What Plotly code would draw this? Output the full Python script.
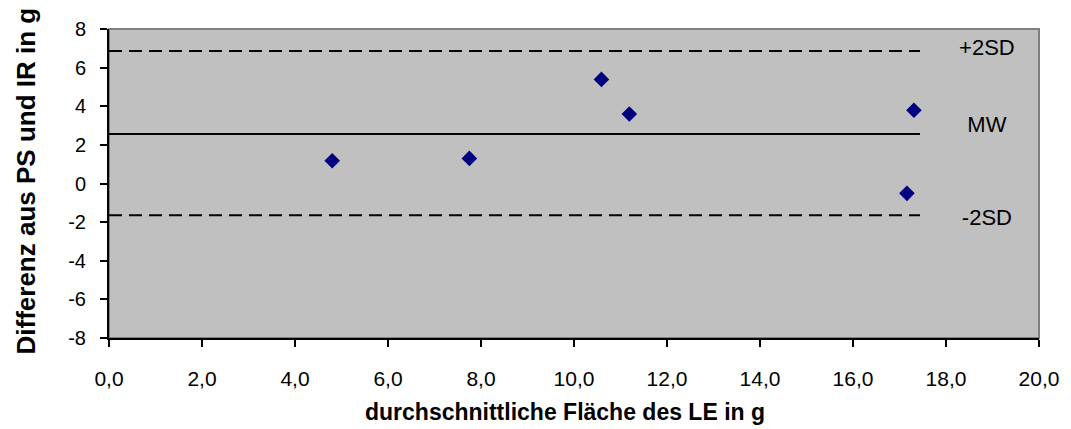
import plotly.graph_objects as go

# Data
mean_area = [4.80, 7.75, 10.59, 11.19, 17.31, 17.16]
diff_ps_ir = [1.18, 1.30, 5.39, 3.60, 3.79, -0.51]

line_x = [0.0, 17.44]
upper_sd = 6.86
mean_diff = 2.56
lower_sd = -1.65

line_labels = ["+2SD", "MW", "-2SD"]
label_x = 18.88
label_y = [6.96, 2.93, -1.84]

x_ticks = [0, 2, 4, 6, 8, 10, 12, 14, 16, 18, 20]
x_tick_text = ["0,0", "2,0", "4,0", "6,0", "8,0", "10,0", "12,0", "14,0", "16,0", "18,0", "20,0"]
y_ticks = [-8, -6, -4, -2, 0, 2, 4, 6, 8]
y_tick_text = ["-8", "-6", "-4", "-2", "0", "2", "4", "6", "8"]

FONT = "Liberation Sans, Arial, sans-serif"

fig = go.Figure()

fig.add_trace(go.Scatter(x=line_x, y=[upper_sd, upper_sd], mode="lines",
                         line=dict(color="black", width=2, dash="13px,7px"),
                         hoverinfo="skip", showlegend=False))
fig.add_trace(go.Scatter(x=line_x, y=[mean_diff, mean_diff], mode="lines",
                         line=dict(color="black", width=2),
                         hoverinfo="skip", showlegend=False))
fig.add_trace(go.Scatter(x=line_x, y=[lower_sd, lower_sd], mode="lines",
                         line=dict(color="black", width=2, dash="13px,7px"),
                         hoverinfo="skip", showlegend=False))

fig.add_trace(go.Scatter(x=mean_area, y=diff_ps_ir, mode="markers",
                         marker=dict(symbol="diamond", size=12, color="#000080",
                                     line=dict(width=0)),
                         showlegend=False))

fig.add_trace(go.Scatter(x=[label_x] * 3, y=label_y, mode="text",
                         text=line_labels, textposition="middle center",
                         textfont=dict(family=FONT, size=22, color="black"),
                         hoverinfo="skip", showlegend=False))

fig.update_layout(
    width=1071, height=429,
    margin=dict(l=109, r=30, t=29, b=91),
    paper_bgcolor="white",
    plot_bgcolor="#C0C0C0",
    font=dict(family=FONT, color="black"),
    shapes=[dict(type="rect", xref="paper", yref="paper", x0=0, y0=0, x1=1, y1=1,
                 line=dict(color="#808080", width=2), layer="below")],
    annotations=[
        dict(text="<b>durchschnittliche Fläche des LE in g</b>", xref="paper", yref="paper",
             x=0.5, y=0, yshift=-74, xshift=-9, showarrow=False,
             font=dict(family=FONT, size=23, color="black"), yanchor="middle"),
        dict(text="<b>Differenz aus PS und IR in g</b>", xref="paper", yref="paper",
             x=0, y=0.5, xshift=-84, yshift=2, showarrow=False, textangle=-90,
             font=dict(family=FONT, size=26, color="black"), xanchor="center"),
    ],
)

fig.update_xaxes(range=[0, 20], tickvals=x_ticks, ticktext=x_tick_text,
                 showgrid=False, zeroline=False, showline=True, linecolor="black", linewidth=2,
                 ticks="outside", ticklen=7, tickwidth=1.5, tickcolor="black",
                 ticklabelstandoff=14,
                 tickfont=dict(family=FONT, size=21, color="black"))
fig.update_yaxes(range=[-8, 8], tickvals=y_ticks, ticktext=y_tick_text,
                 showgrid=False, zeroline=False, showline=True, linecolor="black", linewidth=2,
                 ticks="outside", ticklen=7, tickwidth=1.5, tickcolor="black",
                 ticklabelstandoff=10,
                 tickfont=dict(family=FONT, size=20, color="black"))

fig.write_html("out.html")
